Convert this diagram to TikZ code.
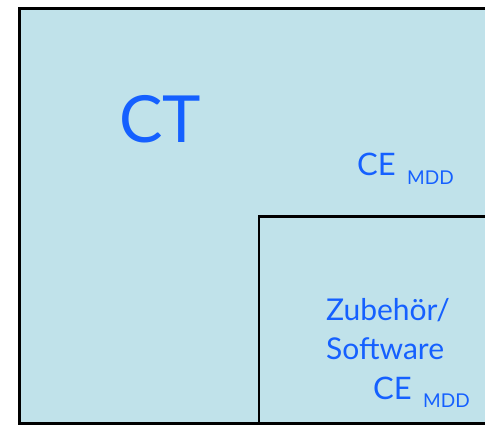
\documentclass[tikz,border=0pt]{standalone}
\usepackage{fontspec}
\setmainfont{Lato}
\definecolor{panel}{HTML}{C0E2EA}
\definecolor{label}{HTML}{1560FF}
\begin{document}
\begin{tikzpicture}[x=1pt,y=-1pt,
  frame/.style={draw=black,line width=3pt,fill=panel},
  inner/.style={draw=black,line width=2.5pt},
  txt/.style={text=label,inner sep=0pt,anchor=base west}]
\clip (0,0) rectangle (485,425);
\path[fill=white] (0,0) rectangle (485,425);
% outer area (open on the right)
\path[frame] (19,9) rectangle (500,423);
% nested accessories area
\path[inner] (259,216.5) rectangle (500,423);
% labels
\node[txt,font=\fontsize{65}{65}\selectfont] (ct) at (119,143) {CT};
\node[txt,font=\fontsize{31}{31}\selectfont] (ce1) at (357,176) {CE};
\node[txt,font=\fontsize{19}{19}\selectfont] (mdd1) at (ce1.base east) [xshift=11pt,yshift=-9pt] {MDD};
\node[txt,font=\fontsize{30}{30}\selectfont] (zub) at (326,320) {Zubehör/};
\node[txt,font=\fontsize{30}{30}\selectfont] (sw) at (326,359) {Software};
\node[txt,font=\fontsize{31}{31}\selectfont] (ce2) at (373,399) {CE};
\node[txt,font=\fontsize{19}{19}\selectfont] (mdd2) at (ce2.base east) [xshift=11pt,yshift=-8pt] {MDD};
\end{tikzpicture}
\end{document}
